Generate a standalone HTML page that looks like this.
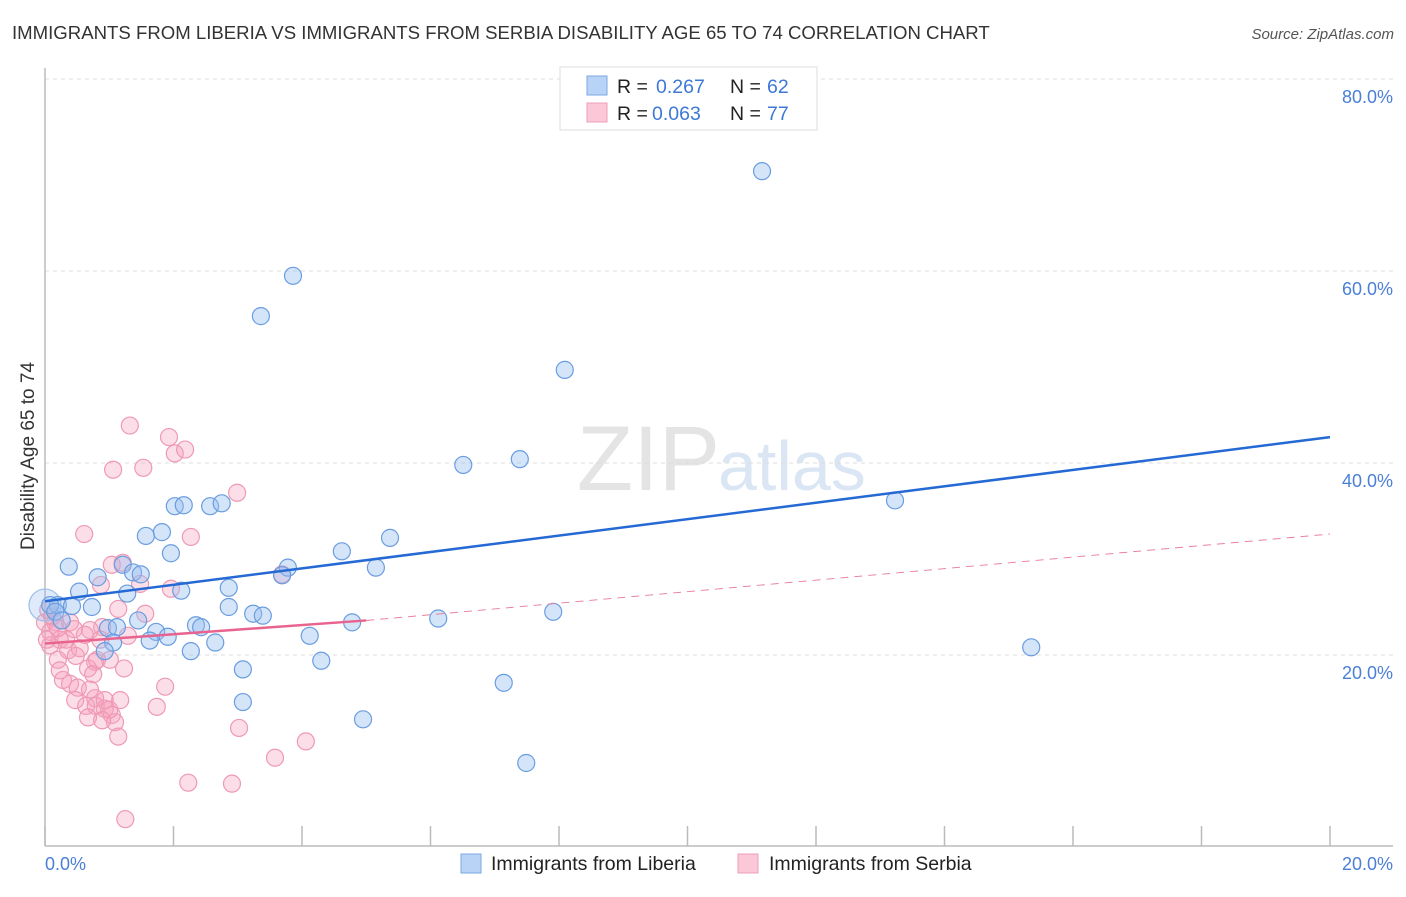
<!DOCTYPE html>
<html><head><meta charset="utf-8"><style>
body{margin:0;background:#fff;font-family:"Liberation Sans",sans-serif;}
svg text{font-family:"Liberation Sans",sans-serif;}
</style></head><body>
<svg id="chart" width="1406" height="892" viewBox="0 0 1406 892" xmlns="http://www.w3.org/2000/svg">
<text x="12" y="39" font-size="18.6" fill="#333">IMMIGRANTS FROM LIBERIA VS IMMIGRANTS FROM SERBIA DISABILITY AGE 65 TO 74 CORRELATION CHART</text>
<text x="1394" y="39" font-size="15" fill="#555" text-anchor="end" font-style="italic">Source: ZipAtlas.com</text>
<text x="720" y="490" font-size="92" fill="#e4e4e4" text-anchor="end" font-family="Liberation Serif">ZIP</text>
<text x="718" y="490" font-size="70" fill="#dbe6f4">atlas</text>
<g id="grid"></g>
<line x1="45" y1="68" x2="45" y2="846" stroke="#bbb" stroke-width="1.5"/>
<line x1="45" y1="846" x2="1393" y2="846" stroke="#bbb" stroke-width="1.5"/>
<g id="xticks"></g>
<text transform="translate(34,456) rotate(-90)" font-size="19" fill="#333" text-anchor="middle">Disability Age 65 to 74</text>
<text x="45" y="870" font-size="18" fill="#4a7fd6">0.0%</text>
<text x="1393" y="870" font-size="18" fill="#4a7fd6" text-anchor="end">20.0%</text>
<g id="pink-points"></g>
<g id="blue-points"></g>
<g id="lines"></g>
<g>
<rect x="560" y="67" width="257" height="63" fill="#fff" stroke="#ddd"/>
<rect x="587" y="76" width="20" height="19" fill="#b8d3f5" stroke="#7aa8e6"/>
<rect x="587" y="103" width="20" height="19" fill="#fac8d7" stroke="#ef9fb7"/>
<text x="617" y="93" font-size="19.5" fill="#222">R = </text><text x="656" y="93" font-size="19.5" fill="#3d78d6">0.267</text>
<text x="730" y="93" font-size="19.5" fill="#222">N = </text><text x="767" y="93" font-size="19.5" fill="#3d78d6">62</text>
<text x="617" y="120" font-size="19.5" fill="#222">R = </text><text x="652" y="120" font-size="19.5" fill="#3d78d6">0.063</text>
<text x="730" y="120" font-size="19.5" fill="#222">N = </text><text x="767" y="120" font-size="19.5" fill="#3d78d6">77</text>
</g>
<g>
<rect x="461" y="854" width="20" height="19" fill="#b8d3f5" stroke="#7aa8e6"/>
<text x="491" y="870" font-size="19.5" fill="#222">Immigrants from Liberia</text>
<rect x="738" y="854" width="20" height="19" fill="#fac8d7" stroke="#ef9fb7"/>
<text x="769" y="870" font-size="19.5" fill="#222">Immigrants from Serbia</text>
</g>
</svg>
<script>
const yTicks=[20,40,60,80];
const yTickLabels=["20.0%","40.0%","60.0%","80.0%"];
const xTicks=[0,2,4,6,8,10,12,14,16,18,20];
const blueX=[0,11.16,3.86,3.36,8.09,6.51,7.39,13.23,2.02,2.16,2.57,2.75,1.82,1.57,1.96,5.37,4.62,0.37,1.21,0.82,1.37,1.49,3.78,5.15,3.69,2.86,2.12,1.28,0.53,0.20,0.42,0.73,2.86,3.24,3.39,1.45,4.78,6.12,7.91,0.98,1.12,2.35,2.43,1.73,1.91,1.63,4.12,2.65,1.06,2.27,0.93,4.30,3.08,3.08,4.95,7.14,7.49,15.35,0.08,0.16,0.26];
const blueY=[25.2,70.4,59.5,55.3,49.7,39.8,40.4,36.1,35.5,35.6,35.5,35.8,32.8,32.4,30.6,32.2,30.8,29.2,29.4,28.1,28.6,28.4,29.1,29.1,28.3,27.0,26.7,26.4,26.6,25.2,25.1,25.0,25.0,24.3,24.1,23.6,23.4,23.8,24.5,22.8,22.9,23.1,22.9,22.4,21.9,21.5,22.0,21.3,21.3,20.4,20.4,19.4,18.5,15.1,13.3,17.1,8.75,20.8,25.2,24.5,23.6];
const pinkX=[1.32,1.93,2.02,2.18,1.06,1.53,2.99,0.61,2.27,1.04,1.21,0.87,1.48,1.96,3.69,1.14,1.56,0.89,1.29,0.70,0.45,0.16,0.23,0.08,0.36,0.54,1.01,0.20,0.78,0.67,1.23,0.28,0.39,0.51,0.75,0.78,0.64,0.79,0.93,1.04,1.09,1.14,1.00,0.67,1.87,1.74,3.02,3.58,4.06,2.23,2.91,1.25,0,0.08,0.05,0.11,0.39,0.86,0.62,0.33,0.48,0.03,0.20,0.70,0.93,0.81,0.23,0.47,0.89,1.17];
const pinkY=[43.9,42.7,41.0,41.4,39.3,39.5,36.9,32.6,32.3,29.4,29.6,27.3,27.4,26.9,28.4,24.8,24.3,22.9,22.0,22.6,22.7,23.4,21.6,21.0,20.5,20.7,19.5,19.5,19.3,18.6,18.6,17.4,17.0,16.6,18.0,15.5,14.7,14.7,14.4,13.75,13.0,11.5,14.3,13.5,16.7,14.6,12.4,9.3,11.0,6.7,6.6,2.9,23.4,22.4,24.7,24.0,23.4,21.6,22.1,21.6,19.9,21.6,22.8,16.4,15.3,19.5,18.4,15.3,13.2,15.3];
const blueTrend=[[0,25.6],[20,42.7]];
const pinkTrend=[[0,21.2],[5,23.6]];
const pinkDash=[[5,23.6],[20,32.6]];

const NS="http://www.w3.org/2000/svg";
const X=v=>45+v*64.25;
const Y=v=>847-v*9.6;
function mk(tag,attrs,parent){const e=document.createElementNS(NS,tag);for(const k in attrs)e.setAttribute(k,attrs[k]);parent.appendChild(e);return e;}
const grid=document.getElementById('grid');
yTicks.forEach((t,i)=>{
 const l=mk('line',{x1:45,x2:1393,y1:Y(t),y2:Y(t),stroke:'#ddd','stroke-dasharray':'4,4'},grid);
 
 
 const tx=mk('text',{x:1393,y:Y(t)+24,'font-size':18,fill:'#4a7fd6','text-anchor':'end'},grid);
 tx.textContent=yTickLabels[i];
 
 
});
const xt=document.getElementById('xticks');
xTicks.forEach(t=>{
 const l=mk('line',{x1:X(t),x2:X(t),y1:826,y2:846,stroke:'#bbb','stroke-width':1.5},xt);
 
 
});
const pg=document.getElementById('pink-points');
pinkX.forEach((v,i)=>{
 const c=mk('circle',{cx:X(v),cy:Y(pinkY[i]),r:8.5,fill:'rgba(245,160,190,0.35)',stroke:'#ee9ab4','stroke-width':1.2},pg);
 
 
});
const bg=document.getElementById('blue-points');
blueX.forEach((v,i)=>{
 const c=mk('circle',{cx:X(v),cy:Y(blueY[i]),r:i===0?16:8.5,fill:i===0?'rgba(150,190,240,0.3)':'rgba(150,190,240,0.4)',stroke:i===0?'#9dbde8':'#6a9de0','stroke-width':1.2},bg);
 
 
});
const lg=document.getElementById('lines');
const bl=mk('line',{x1:X(blueTrend[0][0]),y1:Y(blueTrend[0][1]),x2:X(blueTrend[1][0]),y2:Y(blueTrend[1][1]),stroke:'#2469d4','stroke-width':2.5},lg);


const pl=mk('line',{x1:X(pinkTrend[0][0]),y1:Y(pinkTrend[0][1]),x2:X(pinkTrend[1][0]),y2:Y(pinkTrend[1][1]),stroke:'#e8648e','stroke-width':2.5},lg);


const pd=mk('line',{x1:X(pinkDash[0][0]),y1:Y(pinkDash[0][1]),x2:X(pinkDash[1][0]),y2:Y(pinkDash[1][1]),stroke:'#e8809f','stroke-width':1,'stroke-dasharray':'8,6'},lg);


</script>
</body></html>
